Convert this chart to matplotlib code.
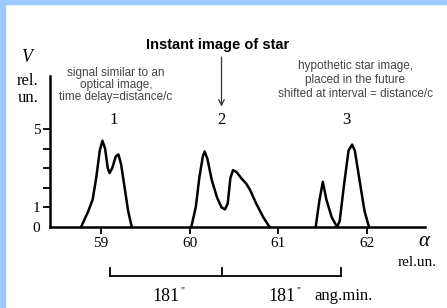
import matplotlib
matplotlib.use("Agg")
import matplotlib.pyplot as plt
from matplotlib.patches import Rectangle

# peak 1 - signal similar to an optical image
x1 = [58.78, 58.86, 58.91, 58.95, 58.99, 59.02, 59.05, 59.08, 59.10, 59.13, 59.17, 59.20, 59.23, 59.27, 59.31, 59.35]
y1 = [0, 0.8, 1.4, 2.5, 3.9, 4.4, 4.0, 3.0, 2.75, 3.0, 3.6, 3.7, 3.2, 2.0, 0.8, 0]
# peak 2 - instant image
x2 = [60.02, 60.07, 60.11, 60.15, 60.17, 60.20, 60.25, 60.31, 60.36, 60.40, 60.43, 60.46, 60.49,
      60.53, 60.58, 60.64, 60.68, 60.75, 60.83, 60.90]
y2 = [0, 1.0, 2.5, 3.6, 3.85, 3.5, 2.4, 1.5, 1.0, 0.9, 1.2, 2.5, 2.9, 2.8, 2.5, 2.2, 1.9, 1.2, 0.5, 0]
# peak 3 - hypothetic image
x3 = [61.42, 61.46, 61.50, 61.54, 61.60, 61.66, 61.69, 61.74, 61.79, 61.83, 61.86, 61.92, 61.97, 62.02]
y3 = [0, 1.3, 2.3, 1.4, 0.5, 0, 0.3, 2.2, 3.9, 4.2, 3.9, 2.2, 0.8, 0]

xticks = [59, 60, 61, 62]
yticks = [0, 1, 2, 3, 4, 5]
ylabels = ['0', '1', '', '', '', '5']
peak_names = ['1', '2', '3']
peak_pos = [59.15, 60.36, 61.76]
bracket = [59.10, 60.37, 61.71]
span_labels = ['181', '181']

W, H = 447, 308
fig = plt.figure(figsize=(W / 100, H / 100), dpi=100)
fig.patch.set_facecolor('white')
# light blue frame top / left
fig.patches.append(Rectangle((0, 1 - 4 / H), 1, 4 / H, transform=fig.transFigure, color='#9cc9fb', zorder=0))
fig.patches.append(Rectangle((0, 0), 5 / W, 1, transform=fig.transFigure, color='#9cc9fb', zorder=0))

ax = fig.add_axes([50 / W, 1 - 227 / H, 375 / W, 151 / H])
ax.set_facecolor('none')
ax.set_xlim(58.43, 62.65)
ax.set_ylim(0, 7.7)
for s in ['top', 'right']:
    ax.spines[s].set_visible(False)
for s in ['left', 'bottom']:
    ax.spines[s].set_linewidth(1.8)

for xx, yy in [(x1, y1), (x2, y2), (x3, y3)]:
    ax.plot(xx, yy, color='black', lw=1.8, solid_joinstyle='round', clip_on=False)

serif = 'Liberation Serif'
ax.set_xticks(xticks)
ax.set_xticklabels([str(t) for t in xticks], family=serif, fontsize=11)
ax.set_yticks(yticks)
ax.set_yticklabels(ylabels, family=serif, fontsize=11)
ax.tick_params(direction='out', length=5, width=1.3, pad=2)
ax.yaxis.get_major_ticks()[0].tick1line.set_visible(False)

for name, px in zip(peak_names, peak_pos):
    ax.text(px, 5.05, name, family=serif, fontsize=12, ha='center', va='bottom')

ax.annotate('', xy=(60.36, 6.0), xytext=(60.36, 8.8), annotation_clip=False,
            arrowprops=dict(arrowstyle='->', color='#333333', lw=0.9))

# bracket under the axis
yb = -2.5
ax.plot([bracket[0], bracket[-1]], [yb, yb], color='black', lw=1.3, clip_on=False)
for b in bracket:
    ax.plot([b, b], [yb, yb + 0.4], color='black', lw=1.3, clip_on=False)
for i, lab in enumerate(span_labels):
    xc = (bracket[i] + bracket[i + 1]) / 2
    ax.text(xc, yb - 0.6, lab, family=serif, fontsize=13, ha='center', va='top')
    ax.text(xc + 0.19, yb - 0.55, '"', family=serif, fontsize=7, ha='center', va='top')
ax.text(61.73, yb - 0.6, 'ang.min.', family=serif, fontsize=12, ha='center', va='top')

def ftext(px, py, s, **kw):
    fig.text(px / W, 1 - py / H, s, **kw)

sans = 'Liberation Sans'
ftext(218, 45, 'Instant image of star', family=sans, fontsize=10.5, weight='bold', ha='center', va='center')
ftext(116, 85, 'signal similar to an\noptical image,\ntime delay=distance/c', family=sans,
      fontsize=8.5, color='#444444', ha='center', va='center', linespacing=1.0)
ftext(355, 80, 'hypothetic star image,\nplaced in the future\nshifted at interval = distance/c', family=sans,
      fontsize=8.5, color='#444444', ha='center', va='center', linespacing=1.25)
ftext(27, 58, 'V', family=serif, style='italic', fontsize=13, ha='center', va='center')
ftext(28, 81, 'rel.', family=serif, fontsize=12, ha='center', va='center')
ftext(28, 98, 'un.', family=serif, fontsize=12, ha='center', va='center')
ftext(424, 241, 'α', family=serif, style='italic', fontsize=15, ha='center', va='center')
ftext(417, 262, 'rel.un.', family=serif, fontsize=11, ha='center', va='center')

fig.savefig('out.png', dpi=100)
